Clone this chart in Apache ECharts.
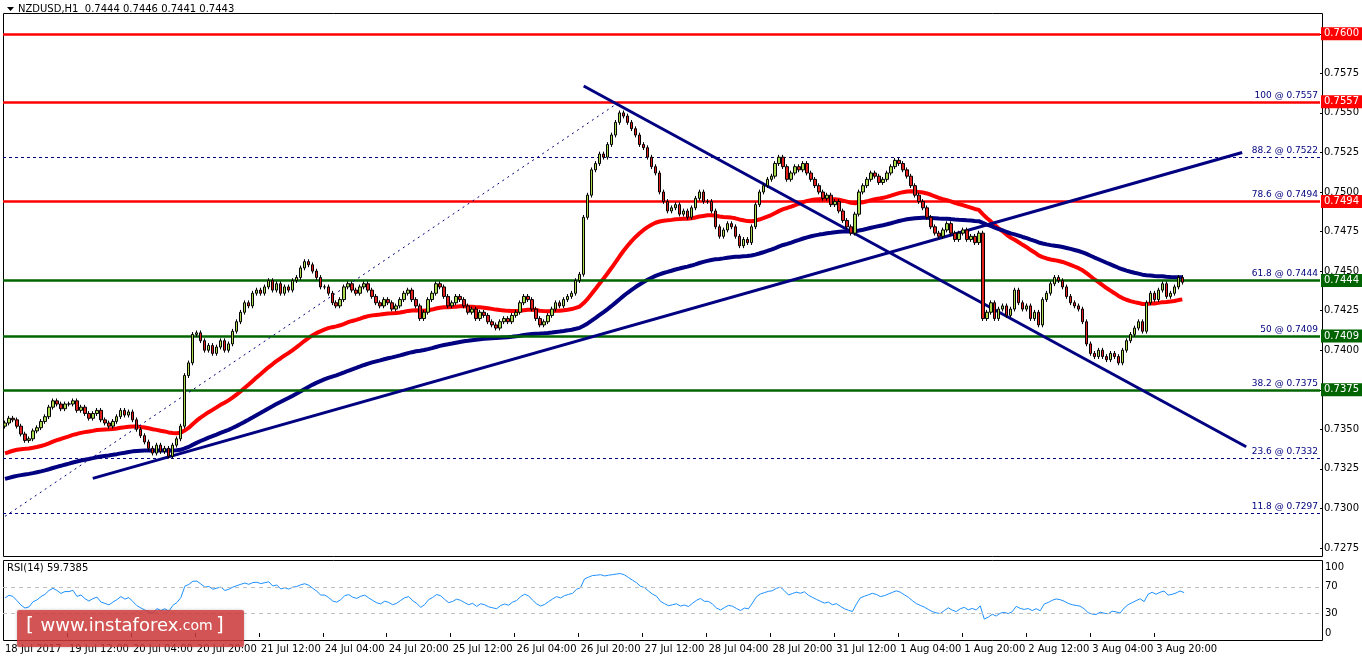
<!DOCTYPE html>
<html>
<head>
<meta charset="utf-8">
<script src="https://cdn.jsdelivr.net/npm/echarts@6/dist/echarts.min.js"></script>
<style>
html,body{margin:0;padding:0;background:#fff;}
#chart{width:1362px;height:661px;}
</style>
</head>
<body>
<div id="chart"></div>
<script>
// hourly closes NZDUSD in pips (0.7354 -> 7354), 18 Jul 20:00 .. 4 Aug 03:00
var closes = [
 7354,7357,7356,7352,7347,7343,7344,7349,7351,7355,7358,7364,7368,7366,7363,7366,
 7366,7368,7362,7364,7360,7357,7360,7362,7356,7354,7352,7355,7358,7362,7359,7361,
 7356,7350,7346,7342,7338,7335,7340,7336,7338,7333,7340,7344,7352,7384,7392,7410,
 7411,7406,7400,7403,7398,7402,7406,7400,7404,7412,7418,7424,7430,7428,7436,7438,
 7436,7440,7444,7438,7442,7436,7440,7438,7444,7446,7452,7456,7454,7450,7446,7440,
 7440,7436,7430,7428,7432,7440,7442,7438,7436,7440,7442,7438,7434,7430,7428,7432,
 7430,7426,7428,7432,7436,7438,7432,7428,7420,7424,7432,7436,7442,7440,7434,7428,
 7430,7434,7432,7428,7424,7426,7420,7424,7422,7418,7416,7414,7418,7420,7418,7422,
 7424,7430,7434,7432,7426,7420,7416,7418,7422,7426,7430,7428,7432,7434,7436,7444,
 7448,7484,7498,7514,7518,7524,7522,7530,7536,7544,7550,7548,7544,7540,7536,7530,
 7528,7522,7516,7512,7500,7494,7488,7490,7492,7486,7488,7484,7490,7496,7500,7494,
 7494,7488,7478,7472,7476,7480,7478,7472,7466,7470,7468,7478,7492,7500,7504,7508,
 7510,7518,7522,7516,7508,7512,7516,7514,7518,7512,7508,7504,7500,7496,7498,7492,
 7494,7488,7482,7478,7474,7486,7500,7504,7508,7512,7510,7506,7508,7512,7516,7520,
 7518,7514,7510,7504,7498,7494,7490,7484,7478,7474,7472,7476,7480,7474,7470,7474,
 7476,7470,7472,7468,7474,7420,7424,7430,7420,7426,7428,7422,7426,7438,7430,7426,
 7428,7420,7424,7416,7432,7436,7442,7446,7444,7440,7434,7430,7428,7426,7418,7404,
 7398,7396,7400,7396,7394,7398,7396,7392,7400,7406,7410,7414,7418,7412,7430,7436,
 7432,7438,7442,7434,7436,7440,7446,7443
];
var firstOpen = 7352;
var tickLabels = ['18 Jul 2017','19 Jul 12:00','20 Jul 04:00','20 Jul 20:00','21 Jul 12:00',
 '24 Jul 04:00','24 Jul 20:00','25 Jul 12:00','26 Jul 04:00','26 Jul 20:00','27 Jul 12:00',
 '28 Jul 04:00','28 Jul 20:00','31 Jul 12:00','1 Aug 04:00','1 Aug 20:00','2 Aug 12:00',
 '3 Aug 04:00','3 Aug 20:00'];
// levels in pips
var resistance = [7600, 7557, 7494];
var support = [7444, 7409, 7375];
var fibLevels = [[100,7557],[88.2,7522],[78.6,7494],[61.8,7444],[50,7409],[38.2,7375],[23.6,7332],[11.8,7297]];
var dashedLevels = [7522, 7332, 7297];
// trend lines [barIndex, pips]
var upTrend = [[22, 7319], [310, 7525]];
var downTrend = [[145, 7567], [311, 7339]];
var fibSwing = [[0, 7295], [154, 7557]];

var CATS = 330, WICK = 1.5;
var cats = [];
for (var i = 0; i < CATS; i++) cats.push(i);

var candles = [], prev = firstOpen;
closes.forEach(function(c){
  candles.push([prev, c, Math.min(prev,c)-WICK, Math.max(prev,c)+WICK]);
  prev = c;
});

function ema(period, seed){
  var a = 2/(period+1), v = seed, out = [];
  closes.forEach(function(c){ v = v + a*(c - v); out.push(+v.toFixed(2)); });
  return out;
}
var ema50 = ema(50, 7334), ema100 = ema(110, 7318);

function rsi(n){
  var ag = 1.2, al = 1.2, out = [], p = firstOpen;
  closes.forEach(function(c){
    var d = c - p; p = c;
    ag = (ag*(n-1) + Math.max(d,0))/n;
    al = (al*(n-1) + Math.max(-d,0))/n;
    out.push(+(100 - 100/(1+ag/al)).toFixed(2));
  });
  return out;
}
var rsiVals = rsi(14);

var chart = echarts.init(document.getElementById('chart'));
var font = 'DejaVu Sans';
function px(v){ return (v/1e4).toFixed(4); }

function levelSeries(data){
  return {type:'line', xAxisIndex:0, yAxisIndex:0, data:[], silent:true,
    markLine:{symbol:'none', silent:true, animation:false, precision:2, data:data}, z:4};
}
function tag(v, bg){
  return {show:true,position:'end',distance:1,formatter:px(v),color:'#fff',backgroundColor:bg,
    padding:[2,3,1,3],fontSize:10,fontFamily:font};
}
var extra = [];
resistance.forEach(function(v){
  extra.push(levelSeries([{yAxis:v, lineStyle:{color:'#ff0000',width:2.5,type:'solid'}, label:tag(v,'#ff0000')}]));
});
support.forEach(function(v){
  extra.push(levelSeries([{yAxis:v, lineStyle:{color:'#006400',width:2.5,type:'solid'}, label:tag(v,'#006400')}]));
});
dashedLevels.forEach(function(v){
  extra.push(levelSeries([{yAxis:v, lineStyle:{color:'#000080',width:1,type:[3,3]}, label:{show:false}}]));
});
fibLevels.forEach(function(f){
  extra.push(levelSeries([{yAxis:f[1], lineStyle:{color:'rgba(0,0,0,0)',width:1},
    label:{show:true,position:'insideEndTop',distance:[2,2],formatter:f[0]+' @ '+px(f[1]),color:'#000080',fontSize:9,fontFamily:font}}]));
});
function seg(pts, style){
  return levelSeries([[{coord:pts[0], lineStyle:style},{coord:pts[1]}]]);
}
extra.push(seg(upTrend, {color:'#000080',width:3,type:'solid'}));
extra.push(seg(downTrend, {color:'#000080',width:3,type:'solid'}));
extra.push(seg(fibSwing, {color:'#000080',width:1,type:[2,4]}));

var series = [
  {type:'candlestick', name:'NZDUSD', xAxisIndex:0, yAxisIndex:0, data:candles, barWidth:3, z:5,
   itemStyle:{color:'#a8dc4c', color0:'#e0201c', borderColor:'#000', borderColor0:'#000', borderWidth:1}},
  {type:'line', name:'EMA50', data:ema50, xAxisIndex:0, yAxisIndex:0, showSymbol:false,
   lineStyle:{color:'#ff0000', width:4}, z:3},
  {type:'line', name:'EMA100', data:ema100, xAxisIndex:0, yAxisIndex:0, showSymbol:false,
   lineStyle:{color:'#000080', width:4}, z:3},
  {type:'line', name:'RSI', data:rsiVals, xAxisIndex:1, yAxisIndex:1, showSymbol:false,
   lineStyle:{color:'#1e90ff', width:1},
   markLine:{symbol:'none', silent:true, label:{show:false},
     lineStyle:{color:'#c0c0c0', type:[4,4], width:1}, data:[{yAxis:30},{yAxis:70}]}}
].concat(extra);

chart.setOption({
  animation:false,
  backgroundColor:'#fff',
  textStyle:{fontFamily:font},
  grid:[
    {left:3, right:40, top:14, height:534},
    {left:3, right:40, top:567, height:66}
  ],
  xAxis:[
    {type:'category', data:cats, gridIndex:0, boundaryGap:true,
     axisLine:{show:false}, axisTick:{show:false}, axisLabel:{show:false}, splitLine:{show:false}},
    {type:'category', data:cats, gridIndex:1, boundaryGap:true, offset:8,
     axisLine:{show:false},
     axisTick:{show:true, length:4, lineStyle:{color:'#000'}, interval:function(i){return i%16===0 && i/16<tickLabels.length;}},
     axisLabel:{show:true, align:'left', fontSize:10, color:'#000', margin:3,
       interval:function(i){return i%16===0 && i/16<tickLabels.length;},
       formatter:function(v,i){return tickLabels[i/16] || '';}},
     splitLine:{show:false}}
  ],
  yAxis:[
    {type:'value', gridIndex:0, position:'right', min:7275, max:7612.5, interval:25,
     axisLine:{show:false}, axisTick:{show:true, length:3, lineStyle:{color:'#000'}},
     axisLabel:{showMaxLabel:false, fontSize:10, color:'#000', margin:4, formatter:function(v){return px(v);}},
     splitLine:{show:false}},
    {type:'value', gridIndex:1, position:'right', min:0, max:100, interval:10,
     axisLine:{show:false}, axisTick:{show:false},
     axisLabel:{fontSize:10, color:'#000', margin:3, formatter:function(v){return [0,30,70,100].indexOf(Math.round(v))>=0 ? String(Math.round(v)) : '';}},
     splitLine:{show:false}}
  ],
  series:series,
  graphic:[
    {type:'rect', shape:{x:3.5,y:13.5,width:1319,height:543}, style:{fill:'none',stroke:'#000',lineWidth:1}, silent:true},
    {type:'rect', shape:{x:3.5,y:560.5,width:1319,height:80}, style:{fill:'none',stroke:'#000',lineWidth:1}, silent:true},
    {type:'polygon', shape:{points:[[7,7],[14,7],[10.5,11]]}, style:{fill:'#000'}},
    {type:'text', left:18, top:4, style:{text:'NZDUSD,H1  0.7444 0.7446 0.7441 0.7443', fontSize:10, fill:'#000', fontFamily:font}},
    {type:'text', left:7, top:563, style:{text:'RSI(14) 59.7385', fontSize:10, fill:'#000', fontFamily:font}},
    {type:'rect', shape:{x:17,y:610,width:227,height:37,r:2}, style:{fill:'rgba(214,60,60,0.82)', shadowBlur:3, shadowColor:'rgba(0,0,0,0.3)'}, z:50},
    {type:'text', left:26, top:616, z:51, style:{
      text:'{b|[}  {w|www.instaforex}{c|.com} {b|]}',
      rich:{b:{fontSize:20, fill:'#fff', fontFamily:font}, w:{fontSize:18, fill:'#fff', fontFamily:font}, c:{fontSize:14, fill:'#fff', fontFamily:font}}}}
  ]
});
</script>
</body>
</html>
